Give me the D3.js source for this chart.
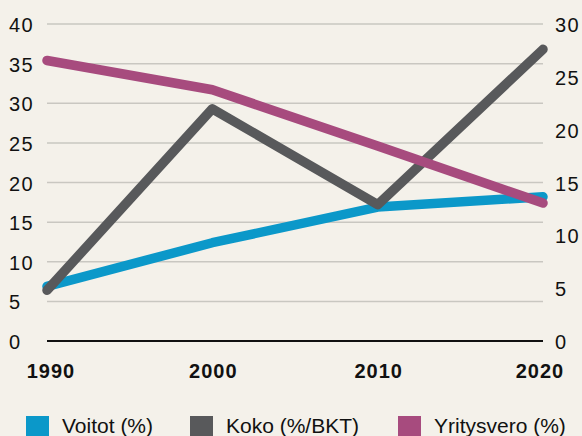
<!DOCTYPE html>
<html>
<head>
<meta charset="utf-8">
<script src="https://cdn.jsdelivr.net/npm/d3@7"></script>
<style>
  html, body { margin: 0; padding: 0; background: #f4f1ea; }
  svg { display: block; font-family: "Liberation Sans", Arial, sans-serif; }
</style>
</head>
<body>
<div id="chart"></div>
<script>
// data
var years = [1990, 2000, 2010, 2020];
var voitot = [6.9, 12.4, 16.9, 18.2];
var koko = [6.4, 29.3, 17.2, 36.8];
var yritysvero = [35.4, 31.7, 24.6, 17.4];
var leftTicks = [0, 5, 10, 15, 20, 25, 30, 35, 40];
var rightTicks = [0, 5, 10, 15, 20, 25, 30];
var seriesNames = ["Voitot (%)", "Koko (%/BKT)", "Yritysvero (%)"];
var seriesColors = ["#0b98c9", "#58595b", "#a74b7e"];

var width = 582, height = 436;
var plot = {left: 47, right: 543, top: 24, bottom: 341};

var x = d3.scaleLinear()
    .domain([1990, 2020])
    .range([plot.left, plot.right]);

var y0 = d3.scaleLinear()
    .domain([0, 40])
    .range([plot.bottom, plot.top]);

var y1 = d3.scaleLinear()
    .domain([0, 30])
    .range([plot.bottom, plot.top]);

var svg = d3.select("#chart").append("svg")
    .attr("width", width)
    .attr("height", height);

svg.append("rect")
    .attr("width", width)
    .attr("height", height)
    .attr("fill", "#f4f1ea");

// gridlines
svg.append("g").selectAll("line")
    .data(leftTicks.filter(function(d) { return d > 0; }))
    .enter().append("line")
    .attr("x1", plot.left)
    .attr("x2", plot.right)
    .attr("y1", function(d) { return y0(d); })
    .attr("y2", function(d) { return y0(d); })
    .attr("stroke", "#c9c7c1")
    .attr("stroke-width", 1.5);

svg.append("line")
    .attr("x1", plot.left)
    .attr("x2", plot.right)
    .attr("y1", y0(0))
    .attr("y2", y0(0))
    .attr("stroke", "#111")
    .attr("stroke-width", 2);

// left axis labels
svg.append("g").selectAll("text")
    .data(leftTicks)
    .enter().append("text")
    .attr("x", 9)
    .attr("y", function(d) { return y0(d) + 8; })
    .attr("font-size", 20)
    .attr("letter-spacing", 1.5)
    .attr("fill", "#111")
    .text(function(d) { return d; });

// right axis labels
svg.append("g").selectAll("text")
    .data(rightTicks)
    .enter().append("text")
    .attr("x", 555)
    .attr("y", function(d) { return y1(d) + 8; })
    .attr("font-size", 20)
    .attr("letter-spacing", 1.5)
    .attr("fill", "#111")
    .text(function(d) { return d; });

// x labels
svg.append("g").selectAll("text")
    .data(years)
    .enter().append("text")
    .attr("x", function(d, i) { return x(d) + (i == 0 ? 4 : (i == years.length - 1 ? -3 : 1)); })
    .attr("y", 378)
    .attr("text-anchor", "middle")
    .attr("font-size", 20)
    .attr("letter-spacing", 1)
    .attr("font-weight", "bold")
    .attr("fill", "#111")
    .text(function(d) { return d; });

// lines
var line = d3.line()
    .x(function(d) { return x(d.year); })
    .y(function(d) { return y0(d.value); });

[voitot, koko, yritysvero].forEach(function(values, i) {
  var pts = years.map(function(yr, j) { return {year: yr, value: values[j]}; });
  svg.append("path")
      .datum(pts)
      .attr("d", line)
      .attr("fill", "none")
      .attr("stroke", seriesColors[i])
      .attr("stroke-width", 9.5)
      .attr("stroke-linecap", "round")
      .attr("stroke-linejoin", "round");
});

// legend
var legendX = [26, 190, 398];
var legend = svg.append("g").selectAll("g")
    .data(seriesNames)
    .enter().append("g")
    .attr("transform", function(d, i) { return "translate(" + legendX[i] + ",416)"; });

legend.append("rect")
    .attr("width", 23)
    .attr("height", 23)
    .attr("fill", function(d, i) { return seriesColors[i]; });

legend.append("text")
    .attr("x", 36)
    .attr("y", 17)
    .attr("font-size", 21)
    .attr("fill", "#111")
    .text(function(d) { return d; });
</script>
</body>
</html>
